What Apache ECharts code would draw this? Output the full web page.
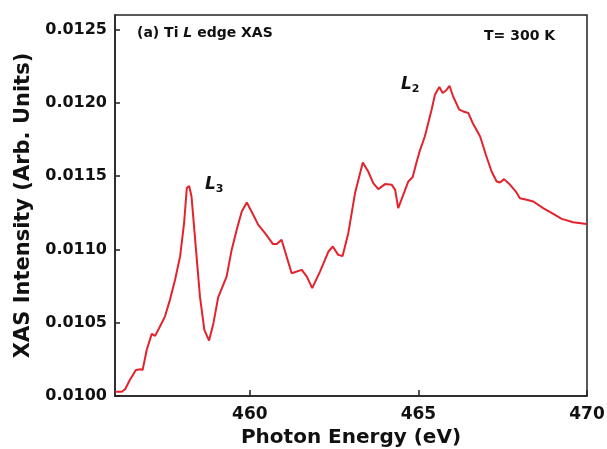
<!DOCTYPE html>
<html>
<head>
<meta charset="utf-8">
<script src="https://cdn.jsdelivr.net/npm/echarts@6/dist/echarts.min.js"></script>
<style>
html, body { margin: 0; padding: 0; background: #fff; }
#chart { width: 607px; height: 449px; }
</style>
</head>
<body>
<div id="chart"></div>
<script>
// photon energy (eV) and XAS intensity
var energy = [
  456.00, 456.20, 456.30, 456.44, 456.62, 456.76, 456.82, 456.94, 457.09, 457.19,
  457.33, 457.48, 457.63, 457.78, 457.93, 458.05, 458.13, 458.20, 458.27, 458.37,
  458.52, 458.65, 458.79, 458.92, 459.06, 459.31, 459.46, 459.61, 459.76, 459.91,
  460.05, 460.25, 460.45, 460.68, 460.80, 460.94, 461.24, 461.54, 461.69, 461.85,
  462.08, 462.33, 462.46, 462.62, 462.75, 462.92, 463.12, 463.35, 463.51, 463.66,
  463.81, 464.01, 464.21, 464.31, 464.40, 464.55, 464.70, 464.83, 464.95, 465.05,
  465.19, 465.39, 465.49, 465.62, 465.72, 465.82, 465.92, 466.03, 466.21, 466.33,
  466.48, 466.61, 466.83, 467.00, 467.17, 467.32, 467.42, 467.54, 467.72, 467.89,
  468.01, 468.21, 468.41, 468.70, 469.00, 469.25, 469.59, 469.99
];
var intensity = [
  0.010029, 0.010029, 0.010046, 0.010109, 0.010178, 0.010182, 0.010178, 0.010314, 0.010424, 0.010410,
  0.010473, 0.010542, 0.010656, 0.010792, 0.010951, 0.011182, 0.011419, 0.011434, 0.011361, 0.011088,
  0.010678, 0.010451, 0.010378, 0.010497, 0.010673, 0.010815, 0.010997, 0.011134, 0.011259, 0.011320,
  0.011259, 0.011168, 0.011111, 0.011038, 0.011038, 0.011066, 0.010838, 0.010861, 0.010815, 0.010736,
  0.010849, 0.010986, 0.011020, 0.010963, 0.010956, 0.011111, 0.011385, 0.011594, 0.011532, 0.011453,
  0.011412, 0.011446, 0.011441, 0.011407, 0.011282, 0.011373, 0.011464, 0.011494, 0.011600, 0.011680,
  0.011771, 0.011954, 0.012056, 0.012109, 0.012068, 0.012085, 0.012117, 0.012044, 0.011954, 0.011942,
  0.011931, 0.011863, 0.011771, 0.011646, 0.011532, 0.011464, 0.011457, 0.011480, 0.011441, 0.011395,
  0.011350, 0.011339, 0.011327, 0.011282, 0.011243, 0.011209, 0.011186, 0.011173
];
var xTicks = [460, 465, 470];
var yTicks = [0.0100, 0.0105, 0.0110, 0.0115, 0.0120, 0.0125];

var chart = echarts.init(document.getElementById('chart'));
var font = 'DejaVu Sans';
var points = energy.map(function (e, i) { return [e, intensity[i]]; });

var option = {
  backgroundColor: '#fff',
  animation: false,
  grid: {
    left: 115, right: 20, top: 15, bottom: 53,
    outerBoundsMode: 'none',
    show: true, borderColor: '#222', borderWidth: 1.5
  },
  xAxis: {
    type: 'value',
    min: 456, max: 470,
    name: 'Photon Energy (eV)',
    nameLocation: 'middle',
    nameGap: 31,
    nameTextStyle: { fontFamily: font, fontWeight: 'bold', fontSize: 20, color: '#111' },
    axisLine: { lineStyle: { color: '#222', width: 1.5 } },
    axisTick: { inside: true, length: 6, lineStyle: { color: '#222', width: 1.5 }, customValues: xTicks },
    axisLabel: { customValues: xTicks, margin: 10, fontFamily: font, fontWeight: 'bold', fontSize: 17, color: '#111' },
    splitLine: { show: false }
  },
  yAxis: {
    type: 'value',
    min: 0.0100, max: 0.0126,
    name: 'XAS Intensity (Arb. Units)',
    nameLocation: 'middle',
    nameGap: 80,
    nameTextStyle: { fontFamily: font, fontWeight: 'bold', fontSize: 21, color: '#111' },
    axisLine: { lineStyle: { color: '#222', width: 1.5 } },
    axisTick: { inside: true, length: 5, lineStyle: { color: '#222', width: 1.5 }, customValues: yTicks },
    axisLabel: {
      customValues: yTicks, margin: 8, fontFamily: font, fontWeight: 'bold', fontSize: 16, color: '#111',
      formatter: function (v) { return v.toFixed(4); }
    },
    splitLine: { show: false }
  },
  graphic: [
    {
      type: 'text', left: 137, top: 26,
      style: {
        text: '(a) Ti {i|L} edge XAS',
        font: 'bold 14px "DejaVu Sans"', fill: '#111',
        rich: { i: { fontStyle: 'italic', fontWeight: 'bold', fontSize: 14, fontFamily: font, fill: '#111' } }
      }
    },
    {
      type: 'text', left: 484, top: 29,
      style: { text: 'T= 300 K', font: 'bold 14px "DejaVu Sans"', fill: '#111' }
    },
    {
      type: 'text', left: 205, top: 176,
      style: {
        text: '{l|L}{s|3}', fill: '#111',
        rich: {
          l: { fontStyle: 'italic', fontWeight: 'bold', fontSize: 17, fontFamily: font, fill: '#111' },
          s: { fontWeight: 'bold', fontSize: 11, fontFamily: font, fill: '#111', padding: [10, 0, 0, 0] }
        }
      }
    },
    {
      type: 'text', left: 401, top: 76,
      style: {
        text: '{l|L}{s|2}', fill: '#111',
        rich: {
          l: { fontStyle: 'italic', fontWeight: 'bold', fontSize: 17, fontFamily: font, fill: '#111' },
          s: { fontWeight: 'bold', fontSize: 11, fontFamily: font, fill: '#111', padding: [10, 0, 0, 0] }
        }
      }
    }
  ],
  series: [{
    type: 'line',
    data: points,
    showSymbol: false,
    smooth: false,
    lineStyle: { color: '#e3232c', width: 2 }
  }]
};

chart.setOption(option);
window.addEventListener('resize', function () {
  chart.resize();
});
</script>
</body>
</html>
